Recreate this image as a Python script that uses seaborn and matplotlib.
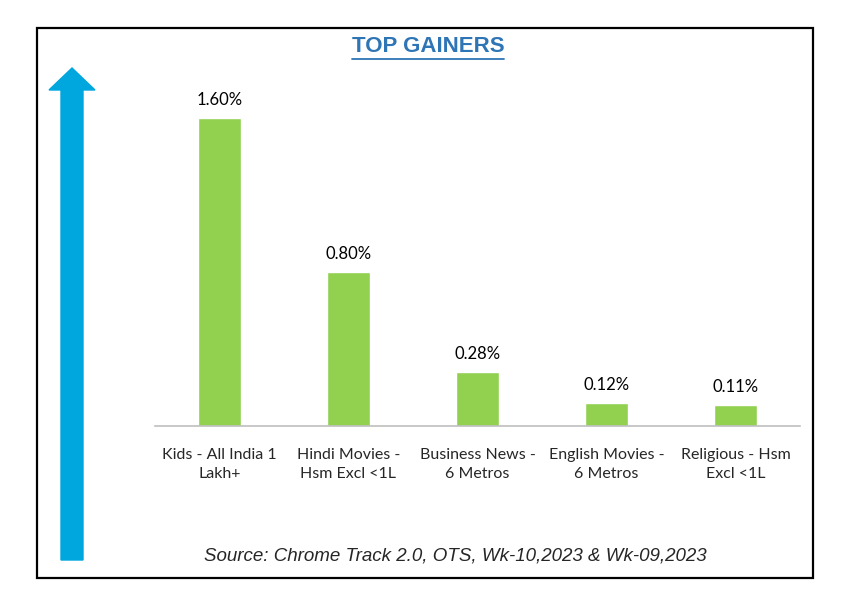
import matplotlib
matplotlib.use("Agg")
import pandas as pd
import seaborn as sns
import matplotlib.pyplot as plt
from matplotlib.patches import FancyArrow, Rectangle
from matplotlib.lines import Line2D

categories = ["Kids - All India 1\nLakh+", "Hindi Movies -\nHsm Excl <1L",
              "Business News -\n6 Metros", "English Movies -\n6 Metros",
              "Religious - Hsm\nExcl <1L"]
gains = [1.60, 0.80, 0.28, 0.12, 0.11]
labels = ["1.60%", "0.80%", "0.28%", "0.12%", "0.11%"]

sns.set_style("white")
plt.rcParams["font.family"] = ["Lato", "DejaVu Sans"]

df = pd.DataFrame({"category": categories, "gain": gains})

fig = plt.figure(figsize=(8.48, 6.14), dpi=100)
ax = fig.add_axes([155 / 848, 188 / 614, 645 / 848, 337 / 614])

sns.barplot(data=df, x="category", y="gain", color="#92D050", saturation=1,
            width=0.33, ax=ax)
ax.set_ylim(0, 1.75)
ax.set_xlim(-0.5, 4.5)

for i, (v, t) in enumerate(zip(gains, labels)):
    ax.annotate(t, (i, v), xytext=(0, 7), textcoords="offset points",
                ha="center", va="bottom", fontsize=12, color="#000000")

ax.set_xlabel("")
ax.set_ylabel("")
ax.set_yticks([])
ax.tick_params(axis="x", length=0, labelsize=11.5, pad=16)
for lab in ax.get_xticklabels():
    lab.set_linespacing(1.45)
for s in ["top", "right", "left"]:
    ax.spines[s].set_visible(False)
ax.spines["bottom"].set_color("#BFBFBF")
ax.spines["bottom"].set_linewidth(1.2)

# outer frame
fig.add_artist(Rectangle((0.37, 0.36), 7.76, 5.50, transform=fig.dpi_scale_trans,
                         fill=False, edgecolor="black", linewidth=1.6))

# blue up arrow
fig.add_artist(FancyArrow(0.72, 0.54, 0, 4.92, width=0.22, head_width=0.46,
                          head_length=0.22, length_includes_head=True,
                          color="#00A6DE", transform=fig.dpi_scale_trans))

# title with underline
title = fig.text(428 / 848, 1 - 47 / 614, "TOP GAINERS", ha="center", va="center",
                 fontsize=16, fontweight="bold", color="#2E75B6",
                 family=["Liberation Sans", "DejaVu Sans"])
fig.canvas.draw()
bb = title.get_window_extent(renderer=fig.canvas.get_renderer())
inv = fig.transFigure.inverted()
(x0, y0), (x1, y1) = inv.transform([(bb.x0, bb.y0 - 1), (bb.x1, bb.y0 - 1)])
fig.add_artist(Line2D([x0, x1], [y0, y1], color="#2E75B6", linewidth=1.3,
                      transform=fig.transFigure))

fig.text(455 / 848, 1 - 556 / 614,
         "Source: Chrome Track 2.0, OTS, Wk-10,2023 & Wk-09,2023",
         ha="center", va="center", fontsize=13.5, style="italic",
         family=["Liberation Sans", "DejaVu Sans"])

fig.savefig("out.png", dpi=100, facecolor="white")
